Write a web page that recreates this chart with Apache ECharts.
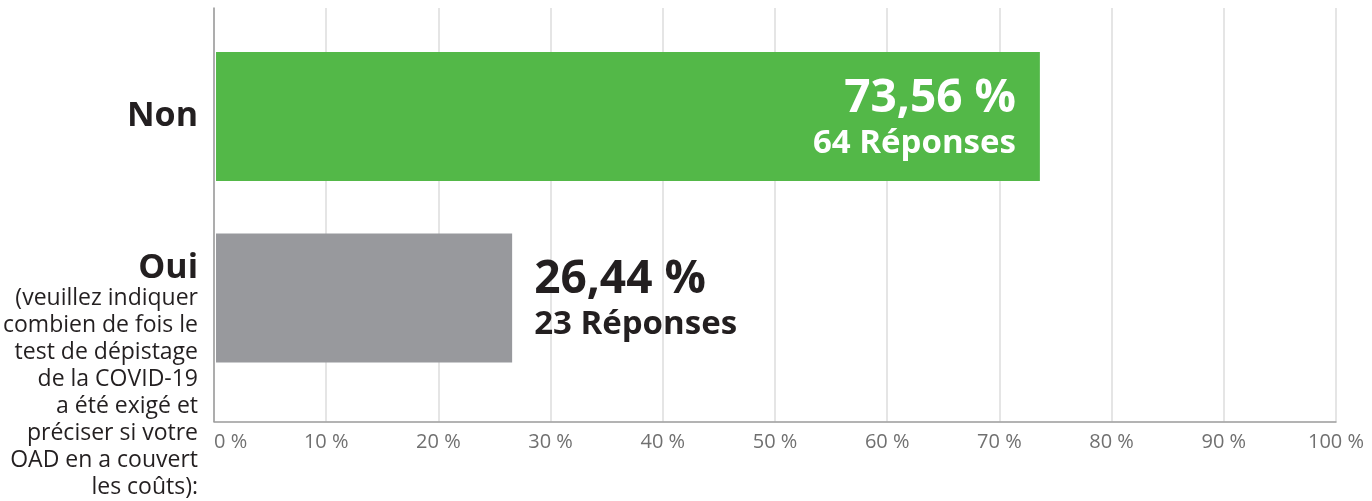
<!DOCTYPE html>
<html>
<head>
<meta charset="utf-8">
<script src="https://cdn.jsdelivr.net/npm/echarts@6/dist/echarts.min.js"></script>
<style>
  html, body { margin: 0; padding: 0; background: #fff; }
  #main { width: 1372px; height: 501px; }
</style>
</head>
<body>
<div id="main"></div>
<script>
var categories = ['Non', 'Oui'];
var percents = [73.56, 26.44];
var responses = [64, 23];
var ouiNote = [
    '(veuillez indiquer',
    'combien de fois le',
    'test de dépistage',
    'de la COVID-19',
    'a été exigé et',
    'préciser si votre',
    'OAD en a couvert',
    'les coûts):'
];
var barColors = ['#53b848', '#98999d'];

var dark = '#231f20';
var font = '"Open Sans", Roboto, sans-serif';

function pctText(v) {
    return v.toFixed(2).replace('.', ',') + ' %';
}

var barData = percents.map(function (v, i) {
    var inside = i === 0;
    return {
        value: v,
        itemStyle: { color: barColors[i] },
        label: {
            show: true,
            position: inside ? 'insideRight' : 'right',
            distance: inside ? 24 : 22,
            align: inside ? 'right' : 'left',
            padding: [8, 0, 0, 0],
            formatter: '{p|' + pctText(v) + '}\n{r|' + responses[i] + ' Réponses}',
            rich: {
                p: { fontFamily: font, fontWeight: 'bold', fontSize: 46, lineHeight: 46, color: inside ? '#fff' : dark, align: inside ? 'right' : 'left' },
                r: { fontFamily: font, fontWeight: 'bold', fontSize: 33, lineHeight: 44, color: inside ? '#fff' : dark, align: inside ? 'right' : 'left' }
            }
        }
    };
});

var yData = categories.map(function (c) {
    if (c === 'Oui') {
        return { value: c, textStyle: { padding: [156, 0, 0, 0] } };
    }
    return c;
});

var myChart = echarts.init(document.getElementById('main'));
var option = {
    animation: false,
    backgroundColor: '#fff',
    grid: [
        { left: 214, right: 36, top: 8, bottom: 79.5 },
        { left: 214, right: 36, top: 25.75, bottom: 112.25 }
    ],
    xAxis: [
        {
            gridIndex: 0,
            type: 'value',
            min: 0,
            max: 100,
            interval: 10,
            axisLine: { show: true, lineStyle: { color: '#9a9a9a', width: 1.5 } },
            axisTick: { show: false },
            splitLine: { show: true, lineStyle: { color: '#dddddd', width: 1.5 } },
            axisLabel: {
                margin: 11,
                color: '#707070',
                fontFamily: font,
                fontSize: 20,
                alignMinLabel: 'left',
                formatter: '{value} %'
            }
        },
        {
            gridIndex: 1,
            type: 'value',
            min: 0,
            max: 100,
            show: false
        }
    ],
    yAxis: [
        {
            gridIndex: 0,
            type: 'value',
            min: 0,
            max: 1,
            axisLine: { show: true, lineStyle: { color: '#9a9a9a', width: 1.5 } },
            axisTick: { show: false },
            axisLabel: { show: false },
            splitLine: { show: false }
        },
        {
            gridIndex: 1,
            type: 'category',
            inverse: true,
            data: yData,
            axisLine: { show: false },
            axisTick: { show: false },
            axisLabel: {
                margin: 18,
                color: dark,
                formatter: function (value) {
                    if (value === 'Oui') {
                        return '{b|Oui}\n' + ouiNote.map(function (l) { return '{s|' + l + '}'; }).join('\n');
                    }
                    return '{b|' + value + '}';
                },
                rich: {
                    b: { fontFamily: font, fontWeight: 'bold', fontSize: 34, lineHeight: 34, color: dark, align: 'right' },
                    s: { fontFamily: font, fontSize: 23, lineHeight: 27, color: dark, align: 'right' }
                }
            }
        }
    ],
    series: [
        {
            type: 'bar',
            xAxisIndex: 1,
            yAxisIndex: 1,
            barWidth: 129,
            data: barData
        }
    ]
};
myChart.setOption(option);
</script>
</body>
</html>
